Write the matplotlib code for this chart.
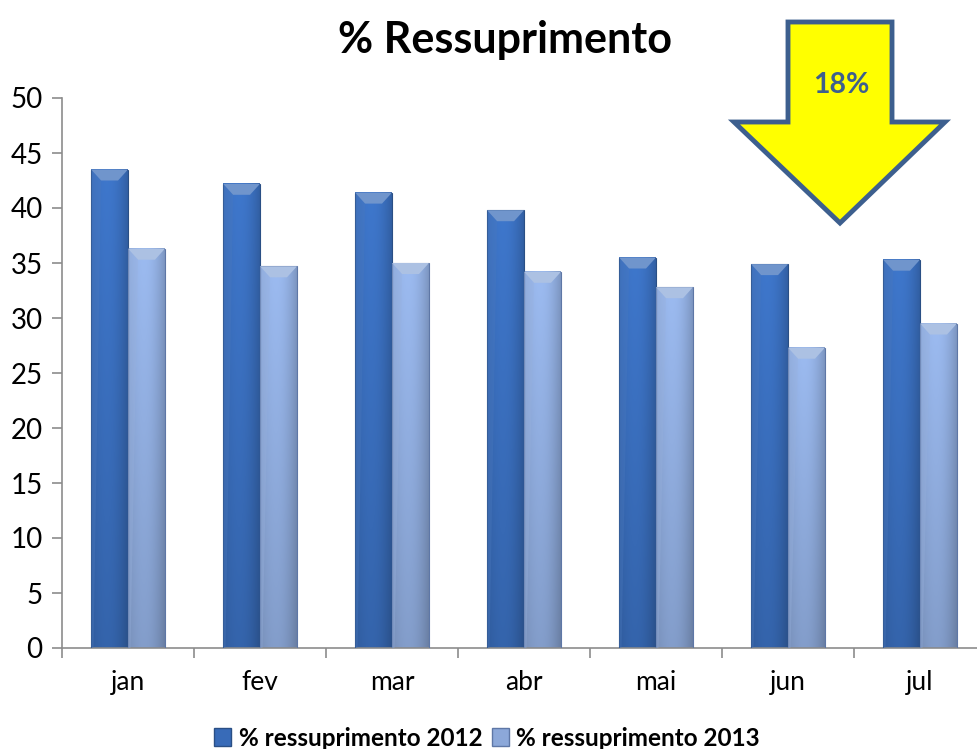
import matplotlib
matplotlib.use("Agg")
import matplotlib.pyplot as plt
from matplotlib.patches import Polygon, Patch
import numpy as np

plt.rcParams['font.family'] = ['Lato', 'DejaVu Sans']

# data
months = ["jan", "fev", "mar", "abr", "mai", "jun", "jul"]
resup_2012 = [43.5, 42.2, 41.4, 39.8, 35.5, 34.9, 35.3]
resup_2013 = [36.3, 34.7, 35.0, 34.2, 32.8, 27.3, 29.5]
series_names = ["% ressuprimento 2012", "% ressuprimento 2013"]
drop_label = "18%"

color_2012 = np.array([0.22, 0.42, 0.72])
color_2013 = np.array([0.55, 0.66, 0.85])
edge_2012 = "#2A4F85"
edge_2013 = "#5E77A6"

BAR_W = 0.28


def lighten(c, amt):
    return np.clip(c + (1 - c) * amt, 0, 1)


def shaded_bar(ax, x0, height, base, edge):
    """Draw one bar with a soft gradient and a bevelled top."""
    if height <= 0:
        return
    nx, ny = 40, 80
    xs = np.linspace(0, 1, nx)
    ys = np.linspace(0, 1, ny)
    # lighter in the middle-left, darker at the right edge
    fx = 1.0 + 0.10 * np.sin(np.pi * xs) - 0.12 * xs ** 3
    fy = 0.86 + 0.16 * ys
    img = base[None, None, :] * fy[:, None, None] * fx[None, :, None]
    img = np.clip(img, 0, 1)
    ax.imshow(img, extent=(x0, x0 + BAR_W, 0, height), origin="lower",
              aspect="auto", zorder=2, interpolation="bilinear")
    ax.add_patch(plt.Rectangle((x0, 0), BAR_W, height, fill=False,
                               edgecolor=edge, linewidth=0.8, zorder=3))
    # bevel on top
    dx = BAR_W * 0.27
    dy = 1.0
    top = Polygon([(x0, height), (x0 + BAR_W, height),
                   (x0 + BAR_W - dx, height - dy), (x0 + dx, height - dy)],
                  closed=True, facecolor=lighten(base, 0.28),
                  edgecolor="none", zorder=3)
    ax.add_patch(top)
    left = Polygon([(x0, height), (x0 + dx, height - dy), (x0 + dx * 0.25, 0),
                    (x0, 0)], closed=True,
                   facecolor=lighten(base, 0.1), edgecolor="none",
                   alpha=0.35, zorder=3)
    ax.add_patch(left)


fig = plt.figure(figsize=(9.77, 7.49), dpi=100)
ax = fig.add_axes([62 / 977, 1 - 648 / 749, 924 / 977, 550 / 749])

x = np.arange(len(months))
for i in x:
    shaded_bar(ax, i - BAR_W, resup_2012[i], color_2012, edge_2012)
    shaded_bar(ax, i, resup_2013[i], color_2013, edge_2013)

ax.set_xlim(-0.5, len(months) - 0.5)
ax.set_ylim(0, 50)
ax.set_yticks(np.arange(0, 51, 5))
ax.set_xticks(x)
ax.set_xticklabels(months)
ax.set_xticks(np.arange(-0.5, len(months)), minor=True)
ax.tick_params(axis="x", which="major", length=0, pad=16, labelsize=19)
ax.tick_params(axis="x", which="minor", length=7, width=1.2, color="#8c8c8c",
               direction="out")
ax.tick_params(axis="y", length=7, width=1.2, color="#8c8c8c", pad=7,
               labelsize=20)
for side in ["top", "right"]:
    ax.spines[side].set_visible(False)
for side in ["left", "bottom"]:
    ax.spines[side].set_color("#8c8c8c")
    ax.spines[side].set_linewidth(1.2)

fig.text(505 / 977, 1 - 40 / 749, "% Ressuprimento", ha="center",
         va="center", fontsize=31, fontweight="bold")

# legend
handles = [Patch(facecolor=color_2012, edgecolor=edge_2012),
           Patch(facecolor=color_2013, edgecolor=edge_2013)]
fig.legend(handles, series_names, loc="center", ncol=2,
           bbox_to_anchor=(487 / 977, 1 - 738 / 749), frameon=False,
           prop={"weight": "bold", "size": 17.5}, handlelength=0.7,
           handleheight=0.7, handletextpad=0.3, columnspacing=0.4)

# yellow arrow annotation (figure pixel coordinates)
W, H = 977, 749
arrow_px = [(788, 22), (892, 22), (892, 122), (945, 122), (840, 223),
            (734, 122), (788, 122)]
arrow = Polygon([(px / W, 1 - py / H) for px, py in arrow_px], closed=True,
                transform=fig.transFigure, facecolor="#FFFF00",
                edgecolor="#3D5F8E", linewidth=3.5, joinstyle="miter")
fig.patches.append(arrow)
fig.text(841 / W, 1 - 85 / H, drop_label, ha="center", va="center",
         fontsize=20.5, fontweight="bold", color="#3D5F8E")

fig.savefig("out.png", dpi=100)
